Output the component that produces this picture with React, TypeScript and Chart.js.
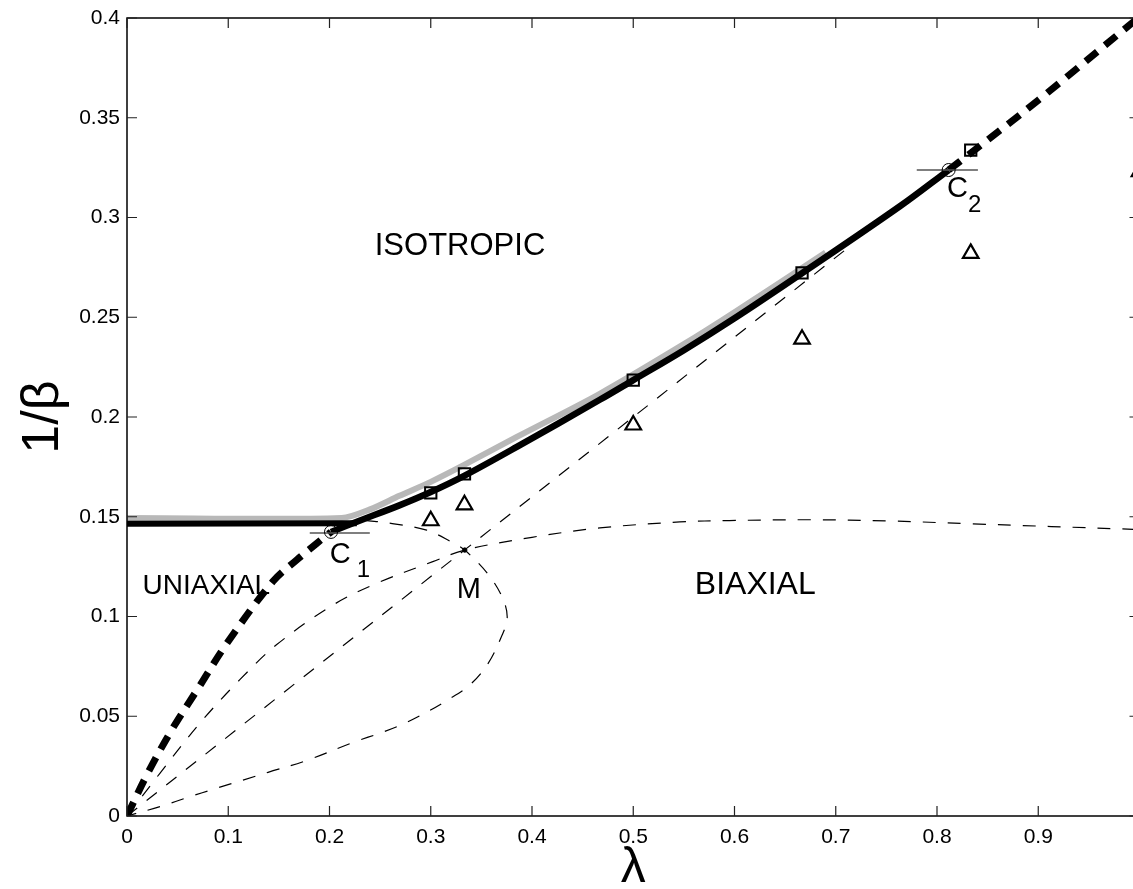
import React, { useEffect, useRef } from "react";
import { Chart, registerables } from "chart.js";

Chart.register(...registerables);

// ---- axis ticks ----
const xTickValues = [0, 0.1, 0.2, 0.3, 0.4, 0.5, 0.6, 0.7, 0.8, 0.9, 1.0];
const yTickValues = [0, 0.05, 0.1, 0.15, 0.2, 0.25, 0.3, 0.35, 0.4];

// ---- thick solid black: flat uniaxial/isotropic boundary ----
const flatBlackX = [0, 0.227];
const flatBlackY = [0.1465, 0.1467];

// ---- thick solid black: isotropic/biaxial curve C1 -> C2 ----
const blackCurveX = [0.2015, 0.227, 0.269, 0.3, 0.333, 0.385, 0.4665, 0.5, 0.55, 0.6, 0.667, 0.763, 0.8115];
const blackCurveY = [0.1424, 0.1475, 0.1557, 0.1624, 0.1705, 0.185, 0.2085, 0.2185, 0.2335, 0.2495, 0.2722, 0.3055, 0.3238];

// ---- thick gray curve ----
const grayCurveX = [0, 0.212, 0.24, 0.269, 0.3, 0.333, 0.385, 0.4665, 0.55, 0.6, 0.69];
const grayCurveY = [0.1494, 0.1494, 0.1537, 0.1605, 0.1675, 0.176, 0.19, 0.2115, 0.2365, 0.2525, 0.2825];

// ---- thick dashed black, lower (origin -> C1) ----
const dashLowX = [0, 0.02, 0.044, 0.069, 0.0986, 0.144, 0.168, 0.187, 0.2015];
const dashLowY = [0, 0.021, 0.043, 0.063, 0.0865, 0.1175, 0.1285, 0.1365, 0.1424];

// ---- thick dashed black, upper (C2 -> top) ----
const dashHighX = [0.8115, 0.8325, 0.9, 0.989, 1.0];
const dashHighY = [0.3238, 0.332, 0.3588, 0.396, 0.4005];

// ---- thin dashed: straight line through M ----
const thinAX = [0, 0.71];
const thinAY = [0, 0.284];

// ---- thin dashed: curve from origin through M across the biaxial region ----
const thinBX = [0, 0.0325, 0.0719, 0.1112, 0.1476, 0.2036, 0.2464, 0.302, 0.3336, 0.4, 0.467, 0.546, 0.595, 0.673, 0.753, 0.832, 0.9937, 1.0];
const thinBY = [0, 0.0214, 0.0465, 0.0682, 0.0858, 0.1058, 0.1166, 0.1275, 0.1333, 0.1397, 0.1444, 0.1474, 0.1481, 0.1485, 0.1479, 0.1465, 0.1437, 0.1436];

// ---- thin dashed: loop through M back to origin ----
const thinCX = [0.235, 0.262, 0.296, 0.32, 0.3336, 0.358, 0.372, 0.3755, 0.3705, 0.3567, 0.3386, 0.3155, 0.2958, 0.2744, 0.2513, 0.225, 0.1772, 0.1393, 0.1146, 0.0883, 0.0603, 0.0357, 0];
const thinCY = [0.1482, 0.1466, 0.1433, 0.1375, 0.1333, 0.1203, 0.108, 0.099, 0.0907, 0.0765, 0.0657, 0.0578, 0.052, 0.0465, 0.0418, 0.0372, 0.0278, 0.0219, 0.018, 0.0139, 0.0094, 0.0052, 0];

// ---- markers ----
const squareX = [0.3, 0.3333, 0.5, 0.6667, 0.8333];
const squareY = [0.162, 0.1715, 0.2185, 0.2722, 0.3338];
const triangleX = [0.3, 0.3333, 0.5, 0.6667, 0.8333, 1.0];
const triangleY = [0.148, 0.156, 0.196, 0.239, 0.282, 0.323];
const circleX = [0.2015, 0.8115];
const circleY = [0.1424, 0.3238];
const pointMX = [0.3336];
const pointMY = [0.1333];

// ---- short horizontal gray bars at C1 and C2 ----
const barC1X = [0.1805, 0.2398];
const barC1Y = [0.1418, 0.1418];
const barC2X = [0.78, 0.8404];
const barC2Y = [0.3238, 0.3238];

const toPts = (xs: number[], ys: number[]) => xs.map((x, i) => ({ x, y: ys[i] }));

const lineDs = (
  label: string,
  xs: number[],
  ys: number[],
  color: string,
  width: number,
  dash: number[],
  tension = 0.35
) => ({
  label,
  data: toPts(xs, ys),
  showLine: true,
  borderColor: color,
  borderWidth: width,
  borderDash: dash,
  borderCapStyle: "butt",
  borderJoinStyle: "round",
  pointRadius: 0,
  pointHoverRadius: 0,
  tension,
  fill: false,
});

const markerDs = (
  label: string,
  xs: number[],
  ys: number[],
  style: string,
  radius: number,
  width: number,
  fillColor = "rgba(0,0,0,0)"
) => ({
  label,
  data: toPts(xs, ys),
  showLine: false,
  pointStyle: style,
  pointRadius: radius,
  pointHoverRadius: radius,
  pointBorderColor: "#000",
  pointBackgroundColor: fillColor,
  pointBorderWidth: width,
  borderColor: "#000",
  backgroundColor: fillColor,
});

const FONT = '"Liberation Sans", Arial, Helvetica, sans-serif';

const fmt = (v: number) => String(Math.round(v * 100) / 100);

const framePlugin = {
  id: "frame",
  afterDatasetsDraw(chart: any) {
    const { ctx, chartArea, scales } = chart;
    const { left, right, top, bottom } = chartArea;
    const xs = scales.x;
    const ys = scales.y;
    ctx.save();
    // axes box
    ctx.strokeStyle = "#000";
    ctx.lineWidth = 1.5;
    ctx.strokeRect(left, top, right - left, bottom - top);
    // inward ticks
    ctx.lineWidth = 1.2;
    ctx.strokeStyle = "#222";
    const tl = 10;
    xTickValues.forEach((v) => {
      const px = xs.getPixelForValue(v);
      ctx.beginPath();
      ctx.moveTo(px, bottom);
      ctx.lineTo(px, bottom - tl);
      ctx.moveTo(px, top);
      ctx.lineTo(px, top + tl);
      ctx.stroke();
    });
    yTickValues.forEach((v) => {
      const py = ys.getPixelForValue(v);
      ctx.beginPath();
      ctx.moveTo(left, py);
      ctx.lineTo(left + tl, py);
      ctx.moveTo(right, py);
      ctx.lineTo(right - tl, py);
      ctx.stroke();
    });
    // annotations
    ctx.fillStyle = "#000";
    ctx.textAlign = "left";
    ctx.textBaseline = "alphabetic";
    const txt = (s: string, x: number, y: number, size: number, dx = 0, dy = 0) => {
      ctx.font = `${size}px ${FONT}`;
      ctx.fillText(s, xs.getPixelForValue(x) + dx, ys.getPixelForValue(y) + dy);
    };
    txt("ISOTROPIC", 0.2447, 0.2812, 31);
    txt("UNIAXIAL", 0.0154, 0.1113, 28);
    txt("BIAXIAL", 0.5608, 0.1113, 32);
    txt("M", 0.3257, 0.1093, 29);
    txt("C", 0.2003, 0.1266, 29);
    txt("1", 0.2003, 0.1266, 24, 27, 14);
    txt("C", 0.8098, 0.3103, 29);
    txt("2", 0.8098, 0.3103, 24, 21, 15);
    ctx.restore();
  },
};

export default function App() {
  const canvasRef = useRef<HTMLCanvasElement | null>(null);

  useEffect(() => {
    const canvas = canvasRef.current;
    if (!canvas) return;
    const chart = new Chart(canvas, {
      type: "scatter",
      data: {
        datasets: [
          markerDs("dotM", pointMX, pointMY, "circle", 2.2, 1, "#000"),
          markerDs("circles", circleX, circleY, "circle", 6.5, 1),
          markerDs("squares", squareX, squareY, "rect", 8, 2),
          markerDs("triangles", triangleX, triangleY, "triangle", 9, 2.2),
          lineDs("barC1", barC1X, barC1Y, "#555", 1.5, [], 0),
          lineDs("barC2", barC2X, barC2Y, "#555", 1.5, [], 0),
          lineDs("dashLow", dashLowX, dashLowY, "#000", 7, [15, 10]),
          lineDs("dashHigh", dashHighX, dashHighY, "#000", 7, [15, 10]),
          lineDs("flatBlack", flatBlackX, flatBlackY, "#000", 6, [], 0),
          lineDs("blackCurve", blackCurveX, blackCurveY, "#000", 6.5, []),
          lineDs("grayCurve", grayCurveX, grayCurveY, "#b8b8b8", 6, [], 0.3),
          lineDs("thinA", thinAX, thinAY, "#000", 1.2, [13, 12], 0),
          lineDs("thinB", thinBX, thinBY, "#000", 1.2, [13, 12]),
          lineDs("thinC", thinCX, thinCY, "#000", 1.2, [13, 12]),
        ] as any,
      },
      options: {
        responsive: false,
        maintainAspectRatio: false,
        animation: false,
        events: [],
        layout: { autoPadding: false, padding: { top: 18, right: 1.5, left: 0, bottom: 0 } },
        plugins: {
          legend: { display: false },
          tooltip: { enabled: false },
          title: { display: false },
        },
        scales: {
          x: {
            type: "linear",
            min: 0,
            max: 1,
            grid: { display: false, drawTicks: false },
            border: { display: false },
            afterBuildTicks: (scale: any) => {
              scale.ticks = xTickValues.map((v) => ({ value: v }));
            },
            afterFit: (scale: any) => {
              scale.height = 73;
              scale.paddingLeft = 0;
              scale.paddingRight = 0;
            },
            ticks: {
              color: "#000",
              font: { family: FONT, size: 21 },
              padding: 9,
              maxRotation: 0,
              autoSkip: false,
              callback: (v: any) => (Number(v) >= 1 ? "" : fmt(Number(v))),
            },
            title: {
              display: true,
              text: "λ",
              color: "#000",
              font: { family: FONT, size: 50, lineHeight: 0.8 },
              padding: { top: 0, bottom: 1 },
            },
          },
          y: {
            type: "linear",
            min: 0,
            max: 0.4,
            grid: { display: false, drawTicks: false },
            border: { display: false },
            afterBuildTicks: (scale: any) => {
              scale.ticks = yTickValues.map((v) => ({ value: v }));
            },
            afterFit: (scale: any) => {
              scale.width = 127;
              scale.paddingTop = 0;
              scale.paddingBottom = 0;
            },
            ticks: {
              color: "#000",
              font: { family: FONT, size: 21 },
              padding: 7,
              autoSkip: false,
              callback: (v: any) => fmt(Number(v)),
            },
            title: {
              display: true,
              text: "1/β",
              color: "#000",
              font: { family: FONT, size: 52, lineHeight: 1 },
              padding: { top: 18, bottom: 0 },
            },
          },
        },
      } as any,
      plugins: [framePlugin],
    });
    return () => chart.destroy();
  }, []);

  return (
    <div
      style={{
        position: "fixed",
        left: 0,
        top: 0,
        width: 1133,
        height: 889,
        overflow: "hidden",
        background: "#fff",
      }}
    >
      <div style={{ position: "absolute", left: 0, top: 0, width: 1141, height: 889 }}>
        <canvas ref={canvasRef} width={1141} height={889} style={{ width: 1141, height: 889, display: "block" }} />
      </div>
    </div>
  );
}
